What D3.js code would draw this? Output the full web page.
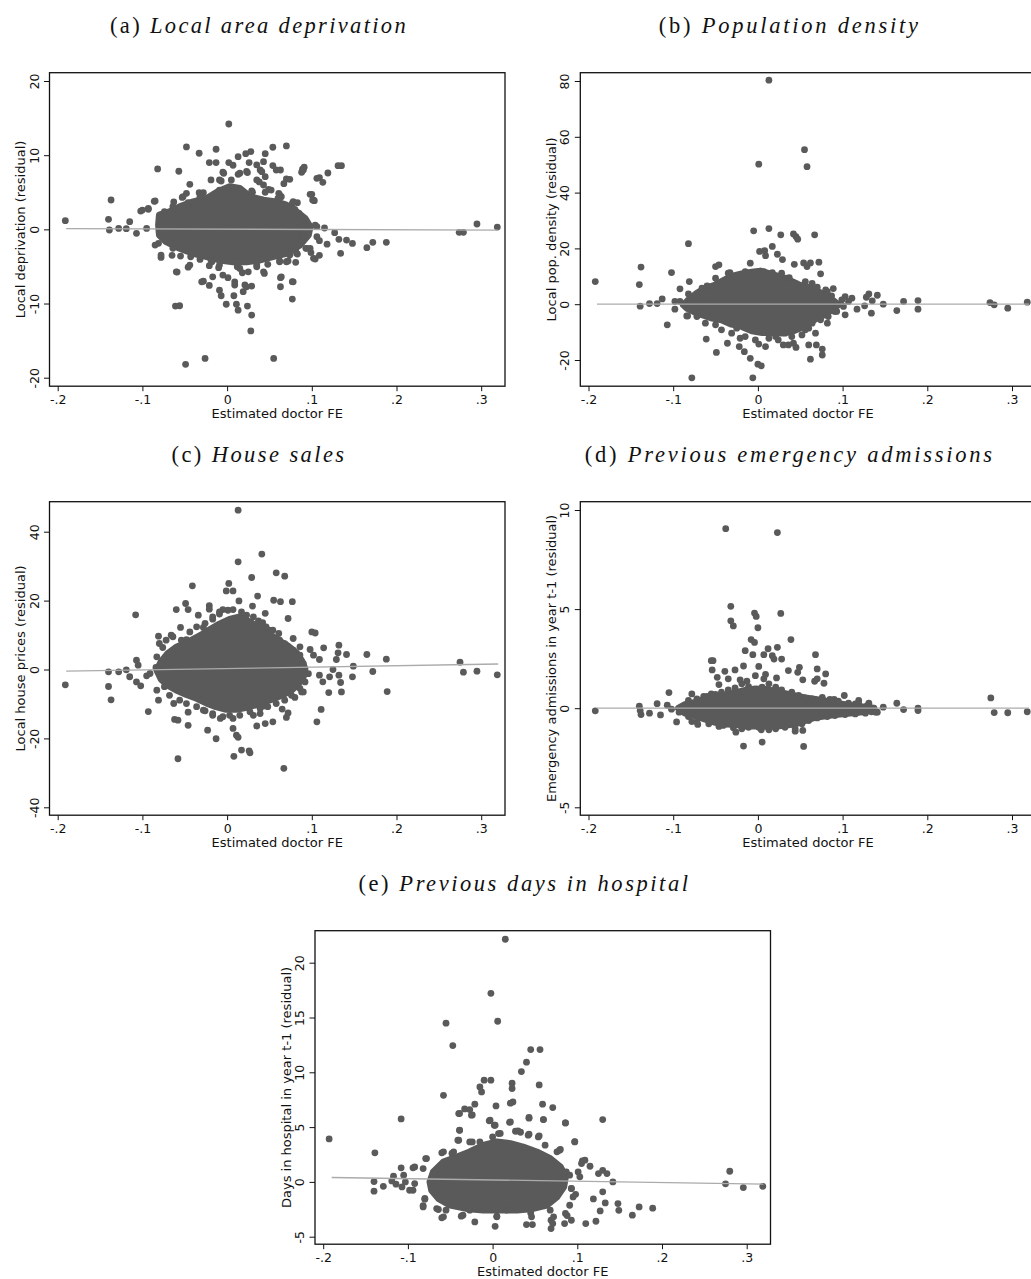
<!DOCTYPE html>
<html>
<head>
<meta charset="utf-8">
<script src="https://cdn.jsdelivr.net/npm/d3@7"></script>
<style>
body { margin: 0; background: #fff; }
</style>
</head>
<body>
<div id="chart-area"></div>
<script>
/* Data: estimated doctor FE (x) against residual outcomes (y) */
const xTicks = [-0.2, -0.1, 0, 0.1, 0.2, 0.3]

const yTicksA = [-20, -10, 0, 10, 20]
const yTicksB = [-20, 0, 20, 40, 60, 80]
const yTicksC = [-40, -20, 0, 20, 40]
const yTicksD = [-5, 0, 5, 10]
const yTicksE = [-5, 0, 5, 10, 15, 20]

// individual visible points
const pointsA = [[-0.191,1.17],[-0.140,1.35],[-0.137,3.96],[-0.139,-0.09],[-0.128,0.13],[-0.119,0.09],[-0.115,1.03],[-0.107,-0.54],[-0.102,2.47],[-0.093,2.7],[-0.086,3.78],[-0.082,8.14],[-0.081,-1.89],[-0.078,-3.78],[-0.057,7.83],[-0.048,11.11],[-0.044,6.07],[-0.033,10.26],[-0.013,10.8],[0.002,14.2],[-0.059,-5.76],[-0.061,-10.35],[-0.056,-10.3],[-0.049,-18.2],[-0.026,-17.4],[0.055,-17.4],[0.028,-13.7],[0.029,-11.56],[0.024,-10.35],[0.013,-10.9],[0.011,-10.1],[-0.001,-10.1],[-0.007,-8.95],[-0.009,-8.2],[-0.028,-7.0],[-0.021,-7.56],[-0.017,-6.4],[0.001,-6.52],[0.009,-7.5],[0.021,-7.5],[0.029,-7.65],[0.019,-8.4],[0.008,-8.95],[0.063,-6.52],[0.063,-7.74],[0.077,-7.06],[0.077,-9.4],[0.062,-4.27],[0.072,-4.27],[0.081,-4.45],[0.083,-3.33],[0.099,-3.15],[0.104,-4.0],[0.109,-3.5],[0.109,-1.53],[0.118,-2.0],[0.127,-0.45],[0.132,-1.35],[0.134,-3.24],[0.141,-1.44],[0.148,-1.9],[0.165,-2.47],[0.172,-1.75],[0.188,-1.75],[0.274,-0.4],[0.279,-0.4],[0.295,0.72],[0.319,0.31],[0.101,3.96],[0.103,3.87],[0.098,4.72],[0.109,6.97],[0.113,6.34],[0.119,7.6],[0.131,8.59],[0.135,8.59],[0.089,8.1],[0.091,8.37],[0.088,7.7],[0.074,6.75],[0.067,6.16],[0.063,8.0],[0.054,8.6],[0.054,11.07],[0.070,11.25],[0.045,10.2],[0.043,9.13],[0.035,8.68],[0.039,8.0],[0.028,10.48],[0.022,10.2],[0.013,9.8],[0.026,9.0],[0.024,7.65],[0.013,7.42],[0.007,8.64],[0.002,9.0],[-0.004,7.56],[-0.007,6.52],[-0.019,6.66],[-0.021,9.0],[-0.013,9.0],[0.045,7.1],[0.038,6.4],[0.049,5.4],[0.045,5.0],[0.030,5.0],[0.061,4.86],[0.064,4.4],[0.083,3.6],[0.080,2.7],[0.077,3.5],[0.085,2.16],[0.098,0.27],[0.106,0.36],[0.115,0.18],[0.090,-1.08],[0.093,-2.56],[0.098,-2.56],[0.081,-2.7],[-0.046,3.6],[-0.063,3.7],[-0.053,4.3],[-0.033,4.95],[-0.028,4.95],[-0.065,-3.5],[-0.055,-3.6],[-0.046,-5.1],[-0.043,-3.7],[-0.032,-4.05],[-0.019,-4.14],[-0.021,-4.9],[-0.010,-5.17],[0.018,-5.85],[0.012,-5.04],[0.035,-5.04],[0.044,-5.94],[0.048,-4.72],[0.061,-2.56],[0.069,-3.15],[0.074,-3.46]]

const pointsB = [[-0.192,8.1],[-0.140,7.05],[-0.138,13.3],[-0.139,-0.7],[-0.128,0.24],[-0.119,0.24],[-0.113,1.9],[-0.107,-7.4],[-0.102,11.35],[-0.098,-1.8],[-0.092,5.5],[-0.082,21.7],[-0.081,8.1],[-0.084,-4.2],[-0.078,-26.4],[-0.061,-12.5],[-0.049,-17.3],[-0.050,13.5],[-0.046,14.1],[-0.036,-14.0],[-0.033,11.35],[-0.021,-12.2],[-0.022,-15.2],[-0.016,-17.0],[-0.009,-19.4],[-0.005,26.3],[-0.006,-26.4],[0.000,-21.5],[0.004,-22.1],[0.001,50.2],[0.002,18.9],[0.008,19.2],[0.009,17.4],[0.013,80.3],[0.013,27.1],[0.017,20.7],[0.023,17.9],[0.029,16.0],[0.027,24.85],[0.042,25.2],[0.045,24.25],[0.047,23.3],[0.055,55.4],[0.058,49.3],[0.067,24.85],[0.072,15.05],[0.074,10.9],[0.054,14.8],[0.058,13.5],[0.062,14.8],[0.043,14.3],[0.037,9.56],[0.060,3.9],[0.001,-14.3],[0.009,-15.2],[0.024,-12.8],[0.030,-14.6],[0.036,-14.6],[0.042,-14.0],[0.045,-15.5],[0.052,-11.0],[0.060,-14.6],[0.069,-14.6],[0.062,-19.7],[0.076,-18.2],[0.076,-16.1],[0.068,-10.4],[0.060,-8.6],[0.082,-6.8],[0.090,-2.4],[0.093,-2.6],[0.103,-3.8],[0.103,2.75],[0.111,2.15],[0.117,-1.8],[0.126,-0.6],[0.128,2.5],[0.131,3.7],[0.134,-3.2],[0.135,1.2],[0.141,3.2],[0.148,0],[0.164,-2.3],[0.172,0.96],[0.189,1.3],[0.189,-1.8],[0.274,0.6],[0.279,-0.24],[0.295,-1.43],[0.318,0.72],[0.089,5.6],[0.080,5.1],[0.072,3.7],[-0.098,0.96],[-0.082,3.7],[-0.075,2.4],[-0.083,-4.2]]

const pointsC = [[-0.191,-4.45],[-0.140,-0.68],[-0.140,-4.93],[-0.137,-8.8],[-0.128,-0.68],[-0.119,-0.1],[-0.115,-2.1],[-0.107,-3.6],[-0.102,-4.74],[-0.108,15.87],[-0.107,2.7],[-0.105,1.26],[-0.095,-1.84],[-0.093,-12.2],[-0.091,-1.16],[-0.084,0.58],[-0.081,9.68],[-0.081,-8.9],[-0.083,3.68],[-0.076,6.39],[-0.066,9.97],[-0.063,-9.87],[-0.062,-14.5],[-0.058,-14.7],[-0.058,-25.9],[-0.060,17.4],[-0.055,12.2],[-0.049,19.16],[-0.046,17.4],[-0.041,24.3],[-0.046,-16.2],[-0.046,-12.4],[-0.034,15.77],[-0.021,18.5],[-0.021,17.5],[-0.023,-17.6],[-0.013,-20.1],[-0.008,-14.2],[-0.005,17.4],[-0.001,22.8],[0.002,25.0],[0.007,22.8],[0.013,46.25],[0.013,31.25],[0.014,19.9],[0.007,-17.1],[0.008,-25.2],[0.011,-19.06],[0.013,-19.7],[0.017,-23.4],[0.026,-23.6],[0.027,-24.2],[0.029,26.7],[0.030,18.4],[0.035,-16.4],[0.036,21.3],[0.041,33.5],[0.045,16.3],[0.045,-15.7],[0.054,-15.2],[0.055,20.1],[0.058,28.06],[0.063,19.7],[0.068,27.1],[0.072,14.8],[0.077,19.7],[0.078,9.0],[0.065,-11.5],[0.070,-13.9],[0.072,-12.6],[0.067,-28.7],[0.080,-8.1],[0.086,6.58],[0.090,-6.5],[0.098,5.8],[0.100,10.9],[0.104,10.6],[0.102,4.16],[0.109,-1.64],[0.109,2.9],[0.111,-11.6],[0.106,-15.2],[0.113,-3.58],[0.114,6.3],[0.120,-6.7],[0.121,-2.13],[0.125,0],[0.129,2.9],[0.132,7.06],[0.131,4.84],[0.132,-1.64],[0.134,-3.77],[0.135,-6.5],[0.141,4.35],[0.148,-2.13],[0.149,0.97],[0.165,4.35],[0.172,-0.58],[0.188,3.0],[0.189,-6.4],[0.275,2.13],[0.279,-0.77],[0.295,-0.48],[0.319,-1.55],[-0.048,8.7],[-0.028,12.2],[-0.017,14.6],[-0.009,16.1],[0.021,14.8],[0.042,13.6],[0.050,11.4],[0.061,10.45],[-0.026,-12.0],[-0.017,-13.3],[0.031,-13.3],[0.043,-10.6],[0.039,-12.8],[0.003,-13.3]]

const pointsD = [[-0.192,-0.13],[-0.140,0.1],[-0.139,-0.12],[-0.138,-0.32],[-0.128,-0.25],[-0.119,0.23],[-0.115,-0.34],[-0.107,0.15],[-0.105,0.79],[-0.102,-0.05],[-0.096,-0.69],[-0.093,-0.2],[-0.078,0.72],[-0.078,-0.67],[-0.071,-0.82],[-0.064,0.59],[-0.055,0.72],[-0.055,2.4],[-0.053,2.4],[-0.054,1.93],[-0.048,1.56],[-0.046,1.19],[-0.039,1.86],[-0.035,1.48],[-0.038,9.06],[-0.032,5.14],[-0.032,4.41],[-0.029,4.15],[-0.027,1.93],[-0.026,-1.21],[-0.017,-1.91],[-0.017,2.13],[-0.015,2.9],[-0.021,1.43],[-0.013,1.36],[-0.008,3.46],[-0.004,3.32],[-0.006,2.7],[-0.004,4.8],[-0.002,4.63],[0.000,4.06],[0.001,2.11],[-0.003,1.64],[0.005,-1.71],[0.004,-1.09],[0.007,2.7],[0.009,1.7],[0.007,1.48],[0.012,3.0],[0.017,2.65],[0.019,2.48],[0.023,8.86],[0.023,3.07],[0.022,1.53],[0.021,1.06],[0.027,4.78],[0.028,2.48],[0.036,1.9],[0.039,3.46],[0.047,1.81],[0.049,2.06],[0.053,1.43],[0.054,-1.93],[0.053,-1.12],[0.044,-1.16],[0.067,1.36],[0.070,1.48],[0.068,2.7],[0.070,1.98],[0.078,1.26],[0.080,1.73],[0.090,0.45],[0.102,0.64],[0.119,0.39],[0.131,0.25],[0.134,-0.18],[0.141,-0.2],[0.148,0.05],[0.164,0.25],[0.172,-0.07],[0.189,0],[0.189,-0.12],[0.275,0.52],[0.279,-0.22],[0.295,-0.23],[0.318,-0.18],[0.123,-0.17],[0.109,-0.03],[0.115,0.22]]

const pointsE = [[-0.193,3.92],[-0.139,2.65],[-0.140,0.03],[-0.140,-0.85],[-0.129,-0.4],[-0.119,0.09],[-0.117,0.52],[-0.114,-0.21],[-0.108,5.75],[-0.108,1.28],[-0.103,0],[-0.098,-0.76],[-0.094,1.28],[-0.092,-0.15],[-0.082,-2.16],[-0.080,-1.58],[-0.079,2.13],[-0.064,-2.52],[-0.060,2.65],[-0.060,-3.28],[-0.058,7.9],[-0.055,-2.58],[-0.055,14.48],[-0.047,12.44],[-0.048,2.59],[-0.040,6.23],[-0.039,4.71],[-0.035,-3.04],[-0.033,6.66],[-0.027,6.6],[-0.024,6.11],[-0.021,7.09],[-0.021,-3.65],[-0.015,8.67],[-0.013,8.21],[-0.010,9.28],[-0.002,9.28],[-0.002,17.21],[-0.004,5.57],[0.002,5.17],[0.004,6.93],[0.003,-4.05],[0.006,14.66],[0.005,-3.13],[0.007,4.41],[0.015,22.14],[0.020,5.44],[0.021,7.18],[0.023,9.0],[0.023,8.52],[0.024,7.3],[0.027,4.62],[0.033,4.53],[0.034,10.07],[0.040,10.92],[0.043,5.81],[0.043,4.35],[0.045,12.07],[0.055,4.2],[0.056,12.07],[0.055,8.85],[0.059,7.09],[0.060,5.69],[0.071,6.78],[0.040,-3.89],[0.047,-3.89],[0.045,-2.83],[0.069,-4.26],[0.069,-3.5],[0.071,-3.8],[0.079,2.89],[0.086,5.38],[0.085,-3.8],[0.088,-3.07],[0.093,-3.5],[0.097,3.68],[0.093,-0.61],[0.098,-1.13],[0.101,0.91],[0.106,1.92],[0.110,-3.8],[0.115,1.43],[0.119,-1.55],[0.122,-3.59],[0.125,0.76],[0.127,-2.65],[0.130,5.69],[0.130,1.06],[0.130,-0.91],[0.133,-1.92],[0.135,0.76],[0.142,0],[0.148,-1.98],[0.149,-2.59],[0.165,-3.04],[0.173,-2.28],[0.189,-2.4],[0.275,-0.18],[0.280,0.97],[0.296,-0.52],[0.319,-0.4],[-0.040,3.8],[-0.024,3.65],[0.000,4.1]]

// points sitting on the ragged rim of each dense cloud
const edgeA = [[-0.009,6.65],[-0.005,7.7],[0.005,6.65],[0.015,7.56],[0.023,7.8],[0.035,6.65],[0.041,7.77],[0.058,8.0],[0.070,6.79],[0.090,8.0],[0.106,6.88],[-0.048,4.86],[-0.052,4.4],[-0.032,4.4],[-0.009,5.3],[0.029,5.17],[0.043,5.98],[0.052,5.3],[0.062,4.63],[0.060,4.18],[0.078,3.72],[0.100,4.72],[0.102,3.95],[-0.085,3.82],[-0.093,2.83],[-0.100,2.6],[-0.074,2.38],[-0.064,3.05],[-0.095,0.13],[-0.085,-2.12],[-0.078,-3.47],[-0.064,-2.56],[-0.060,-5.72],[-0.044,-4.82],[-0.030,-7.07],[-0.024,-3.47],[-0.018,-4.37],[-0.009,-4.82],[-0.005,-6.17],[0.015,-5.27],[0.009,-7.07],[0.025,-5.72],[0.023,-7.75],[0.035,-4.82],[0.043,-5.72],[0.062,-4.37],[0.064,-6.4],[0.078,-7.07],[0.070,-4.37],[0.082,-3.24],[0.094,-2.56],[0.102,-3.91],[0.106,-1.0],[0.082,-0.77],[0.090,0.58],[0.104,0.58]]
const edgeB = [[-0.066,5.73],[-0.060,6.57],[-0.050,9.3],[-0.035,11.1],[-0.027,9.9],[-0.015,11.7],[-0.009,14.7],[0.007,11.7],[0.017,11.35],[0.028,11.1],[0.033,9.3],[0.044,7.5],[0.056,8.1],[0.064,7.5],[0.070,6.1],[0.082,4.5],[0.087,3.0],[-0.072,-4.4],[-0.062,-6.8],[-0.050,-7.4],[-0.043,-9.2],[-0.031,-10.4],[-0.025,-8.6],[-0.015,-11.6],[-0.003,-12.8],[0.013,-12.2],[0.021,-11.6],[0.032,-10.4],[0.040,-11.6],[0.056,-9.2],[0.064,-6.8],[0.074,-5.6],[0.083,-4.4],[0.091,-2.6],[0.101,-0.8],[0.107,0.96],[0.099,1.55],[-0.082,-0.24],[-0.092,0.96]]
const edgeC = [[-0.080,7.55],[-0.072,8.5],[-0.064,9.5],[-0.054,8.5],[-0.044,10.9],[-0.036,12.4],[-0.026,13.4],[-0.017,15.3],[-0.009,16.7],[0.001,17.2],[0.007,17.4],[0.017,16.7],[0.023,15.8],[0.031,15.3],[0.037,14.1],[0.046,12.4],[0.054,11.4],[0.062,8.5],[0.068,7.5],[0.078,5.6],[0.086,4.2],[0.090,1.7],[-0.083,-6.0],[-0.074,-5.0],[-0.068,-7.5],[-0.056,-8.9],[-0.048,-9.9],[-0.036,-10.8],[-0.028,-11.8],[-0.017,-12.8],[-0.005,-13.7],[0.007,-14.2],[0.015,-13.3],[0.027,-12.3],[0.039,-11.3],[0.048,-10.8],[0.058,-9.9],[0.068,-8.9],[0.076,-7.5],[0.086,-5.5],[0.092,-3.6],[0.096,-1.2],[0.088,-6.5]]
const edgeD = [[-0.082,0.39],[-0.072,0.47],[-0.060,0.59],[-0.050,0.69],[-0.043,0.81],[-0.035,0.92],[-0.027,1.02],[-0.019,1.23],[-0.011,1.09],[-0.003,0.92],[0.005,1.06],[0.013,1.23],[0.021,0.97],[0.028,0.92],[0.040,0.81],[0.048,0.64],[0.056,0.52],[0.064,0.47],[0.076,0.55],[0.085,0.45],[0.095,0.35],[0.107,0.25],[0.119,0.22],[0.129,0.13],[-0.082,-0.42],[-0.072,-0.7],[-0.058,-0.79],[-0.046,-0.92],[-0.041,-0.87],[-0.029,-0.99],[-0.019,-1.04],[-0.011,-0.96],[0.001,-0.96],[0.013,-1.09],[0.021,-1.04],[0.032,-0.96],[0.044,-1.04],[0.052,-0.79],[0.060,-0.62],[0.070,-0.49],[0.082,-0.42],[0.091,-0.37],[0.103,-0.32],[0.115,-0.29],[0.127,-0.25],[0.139,-0.2]]
const edgeE = [[-0.039,6.24],[-0.025,6.09],[-0.003,5.63],[0.003,5.17],[0.021,5.47],[0.030,4.65],[0.043,5.88],[0.060,5.69],[0.086,5.38],[0.097,3.65],[-0.039,4.72],[-0.041,3.8],[-0.027,3.65],[-0.015,3.65],[0.009,4.42],[0.042,4.26],[0.054,4.1],[0.062,3.35],[0.076,2.74],[0.080,2.96],[-0.058,2.74],[-0.046,2.74],[-0.078,2.13],[-0.092,1.37],[-0.082,1.22],[-0.105,0.61],[-0.107,-0.46],[-0.094,-0.76],[-0.080,-1.51],[-0.082,-2.28],[-0.066,-2.43],[-0.058,-3.19],[-0.037,-3.13],[-0.027,-2.58],[0.005,-3.19],[0.017,-2.58],[0.044,-2.52],[0.046,-3.19],[0.068,-2.58],[0.072,-3.19],[0.086,-2.88],[0.091,-2.13],[0.095,-1.37],[0.093,-0.6],[0.103,0.46],[0.105,1.68],[0.109,1.98],[0.087,0.91],[0.091,0.61]]

// outline of the dense centre of each cloud (centres of the outermost dots)
const coreA = [[-0.081,0.58],[-0.080,1.93],[-0.068,2.38],[-0.056,3.05],[-0.040,3.72],[-0.024,4.18],[-0.011,5.07],[0.003,5.75],[0.015,5.53],[0.027,4.4],[0.043,3.95],[0.058,3.72],[0.070,3.28],[0.082,2.38],[0.092,1.48],[0.098,0.35],[0.096,-0.77],[0.086,-2.12],[0.070,-3.24],[0.054,-3.7],[0.039,-4.14],[0.023,-4.37],[0.007,-4.37],[-0.009,-4.14],[-0.024,-3.7],[-0.040,-3.24],[-0.056,-2.56],[-0.072,-1.67],[-0.080,-0.77]]
const coreB = [[-0.088,-0.24],[-0.082,1.55],[-0.072,3.94],[-0.062,5.73],[-0.050,6.93],[-0.039,8.72],[-0.031,10.0],[-0.019,10.9],[-0.007,11.5],[0.003,11.9],[0.013,11.0],[0.024,10.0],[0.036,8.72],[0.048,7.0],[0.060,6.0],[0.070,4.8],[0.080,3.0],[0.089,1.3],[0.095,-0.24],[0.087,-2.03],[0.078,-3.82],[0.068,-5.3],[0.060,-7.0],[0.050,-8.6],[0.040,-9.8],[0.028,-10.4],[0.017,-10.2],[0.005,-10.2],[-0.007,-9.6],[-0.019,-8.0],[-0.031,-7.2],[-0.043,-5.62],[-0.054,-5.0],[-0.066,-3.82],[-0.076,-2.63],[-0.084,-1.43]]
const coreC = [[-0.083,-0.19],[-0.078,2.23],[-0.070,4.64],[-0.060,6.5],[-0.050,7.5],[-0.040,8.8],[-0.028,10.4],[-0.019,11.8],[-0.009,13.2],[0.003,14.6],[0.015,15.3],[0.027,13.8],[0.039,12.0],[0.050,10.2],[0.062,8.2],[0.072,6.8],[0.082,4.8],[0.088,2.6],[0.092,0.2],[0.090,-2.13],[0.084,-4.2],[0.076,-6.0],[0.066,-7.3],[0.056,-8.4],[0.046,-9.2],[0.035,-10.2],[0.023,-11.0],[0.011,-11.6],[-0.001,-11.6],[-0.013,-10.8],[-0.024,-9.8],[-0.036,-8.4],[-0.048,-7.3],[-0.060,-6.0],[-0.070,-4.6],[-0.078,-2.8]]
const coreD = [[-0.094,0],[-0.086,0.18],[-0.074,0.3],[-0.062,0.45],[-0.050,0.58],[-0.039,0.66],[-0.027,0.78],[-0.015,0.9],[-0.003,0.97],[0.009,0.95],[0.021,0.85],[0.032,0.74],[0.044,0.62],[0.056,0.52],[0.068,0.45],[0.080,0.36],[0.091,0.26],[0.103,0.18],[0.115,0.1],[0.127,0.05],[0.137,0],[0.127,-0.17],[0.115,-0.22],[0.103,-0.27],[0.091,-0.32],[0.080,-0.39],[0.068,-0.46],[0.056,-0.62],[0.044,-0.8],[0.032,-0.85],[0.021,-0.92],[0.009,-0.92],[-0.003,-0.9],[-0.015,-0.9],[-0.027,-0.82],[-0.039,-0.8],[-0.050,-0.72],[-0.062,-0.56],[-0.074,-0.38],[-0.086,-0.25]]
const coreE = [[-0.074,0],[-0.070,0.91],[-0.058,1.82],[-0.042,2.28],[-0.027,2.74],[-0.011,3.35],[0.005,3.65],[0.021,3.5],[0.036,3.19],[0.052,2.74],[0.068,2.13],[0.080,1.37],[0.086,0.46],[0.084,-0.46],[0.076,-1.37],[0.064,-2.13],[0.048,-2.43],[0.029,-2.58],[0.009,-2.58],[-0.011,-2.58],[-0.031,-2.43],[-0.050,-2.13],[-0.064,-1.51],[-0.072,-0.76]]

// fitted lines (endpoints)
const fitA = [[-0.19, 0.1], [0.32, -0.1]]
const fitB = [[-0.19, 0.05], [0.32, 0.0]]
const fitC = [[-0.19, -0.5], [0.32, 1.6]]
const fitD = [[-0.19, 0.0], [0.32, 0.0]]
const fitE = [[-0.19, 0.4], [0.32, -0.2]]

const panelTags = ['(a)', '(b)', '(c)', '(d)', '(e)']
const panelTitles = ['Local area deprivation', 'Population density', 'House sales', 'Previous emergency admissions', 'Previous days in hospital']
const yLabels = ['Local deprivation (residual)', 'Local pop. density (residual)', 'Local house prices (residual)', 'Emergency admissions in year t-1 (residual)', 'Days in hospital in year t-1 (residual)']
const xLabel = 'Estimated doctor FE'

/* Layout */
const CANVAS_WIDTH = 1031
const CANVAS_HEIGHT = 1279
const FRAME_W = 455.5
const FRAME_H = 313.5
const DOT_R = 3.4
const DOT_COLOR = '#5a5a5a'

const layout = [
	{ left: 49.5, top: 72.7, yHi: 8.3, yLo: 305, titleW: 298 },
	{ left: 580.3, top: 72.7, yHi: 8.3, yLo: 287.3, titleW: 262 },
	{ left: 49.5, top: 501.7, yHi: 30, yLo: 305.6, titleW: 175 },
	{ left: 580.3, top: 501.7, yHi: 8.3, yLo: 305.6, titleW: 410 },
	{ left: 315, top: 930.7, yHi: 32, yLo: 306, titleW: 332 }
]

const panels = [
	{ points: pointsA.concat(edgeA), core: coreA, fit: fitA, yTicks: yTicksA },
	{ points: pointsB.concat(edgeB), core: coreB, fit: fitB, yTicks: yTicksB },
	{ points: pointsC.concat(edgeC), core: coreC, fit: fitC, yTicks: yTicksC },
	{ points: pointsD.concat(edgeD), core: coreD, fit: fitD, yTicks: yTicksD },
	{ points: pointsE.concat(edgeE), core: coreE, fit: fitE, yTicks: yTicksE }
].map((p, i) => Object.assign(p, layout[i], {
	tag: panelTags[i], title: panelTitles[i], yLabel: yLabels[i]
}))

const $svg = d3.select('#chart-area')
	.append('svg')
	.attr('width', CANVAS_WIDTH)
	.attr('height', CANVAS_HEIGHT)
	.style('display', 'block')

const fmtX = d => d === 0 ? '0' : String(+d.toFixed(1)).replace(/^(-?)0\./, '$1.')

panels.forEach(p => {
	const $g = $svg.append('g')

	const xScale = d3.scaleLinear()
		.domain([-0.2, 0.3])
		.range([p.left + 8.2, p.left + 8.2 + 423.5])

	const yScale = d3.scaleLinear()
		.domain([p.yTicks[0], p.yTicks[p.yTicks.length - 1]])
		.range([p.top + p.yLo, p.top + p.yHi])

	/* Title */
	const $title = $g.append('text')
		.attr('x', p.left + 209.5)
		.attr('y', p.top - 39.5)
		.attr('text-anchor', 'middle')
		.attr('font-family', '"Liberation Serif", "Times New Roman", serif')
		.attr('font-size', 22.5)
		.attr('fill', '#111')
	$title.append('tspan').text(p.tag + ' ')
	$title.append('tspan').attr('font-style', 'italic').text(p.title)
	const natural = $title.node().getComputedTextLength()
	const nChars = (p.tag + ' ' + p.title).length
	$title.attr('letter-spacing', Math.max(0, (p.titleW - natural) / nChars))

	/* Dense core + points */
	const line = d3.line().x(d => xScale(d[0])).y(d => yScale(d[1]))
	$g.append('path')
		.datum(p.core)
		.attr('d', line.curve(d3.curveLinearClosed))
		.attr('fill', DOT_COLOR)
		.attr('stroke', DOT_COLOR)
		.attr('stroke-width', DOT_R * 2)
		.attr('stroke-linejoin', 'round')

	$g.selectAll('circle')
		.data(p.points)
		.enter()
		.append('circle')
		.attr('cx', d => xScale(d[0]))
		.attr('cy', d => yScale(d[1]))
		.attr('r', DOT_R)
		.attr('fill', DOT_COLOR)

	/* Fitted line */
	$g.append('path')
		.datum(p.fit)
		.attr('d', d3.line().x(d => xScale(d[0])).y(d => yScale(d[1])))
		.attr('fill', 'none')
		.attr('stroke', '#ababab')
		.attr('stroke-width', 1.3)

	/* Frame */
	$g.append('rect')
		.attr('x', p.left)
		.attr('y', p.top)
		.attr('width', FRAME_W)
		.attr('height', FRAME_H)
		.attr('fill', 'none')
		.attr('stroke', '#111')
		.attr('stroke-width', 1.3)

	/* Axes */
	const $xAxis = $g.append('g')
		.attr('transform', `translate(0, ${p.top + FRAME_H})`)
		.call(d3.axisBottom(xScale).tickValues(xTicks).tickFormat(fmtX).tickSize(5).tickSizeOuter(0))
	$xAxis.select('.domain').remove()
	$xAxis.selectAll('text')
		.attr('y', 17.5)
		.attr('dy', 0)
		.attr('font-size', 12.5)
		.attr('font-family', '"DejaVu Sans", sans-serif')
		.attr('fill', '#111')

	const $yAxis = $g.append('g')
		.attr('transform', `translate(${p.left}, 0)`)
		.call(d3.axisLeft(yScale).tickValues(p.yTicks).tickFormat(d => String(d)).tickSize(5.5).tickSizeOuter(0))
	$yAxis.select('.domain').remove()
	$yAxis.selectAll('text')
		.attr('transform', 'rotate(-90)')
		.attr('x', 0)
		.attr('y', -11)
		.attr('dy', 0)
		.attr('text-anchor', 'middle')
		.attr('font-size', 12.5)
		.attr('font-family', '"DejaVu Sans", sans-serif')
		.attr('fill', '#111')
	$g.selectAll('.tick line').attr('stroke', '#111')

	/* Axis labels */
	$g.append('text')
		.attr('x', p.left + FRAME_W / 2)
		.attr('y', p.top + FRAME_H + 32)
		.attr('text-anchor', 'middle')
		.attr('font-size', 13)
		.attr('font-family', '"DejaVu Sans", sans-serif')
		.attr('fill', '#111')
		.text(xLabel)

	$g.append('text')
		.attr('transform', `translate(${p.left - 24.5}, ${p.top + FRAME_H / 2}) rotate(-90)`)
		.attr('text-anchor', 'middle')
		.attr('font-size', 13)
		.attr('font-family', '"DejaVu Sans", sans-serif')
		.attr('fill', '#111')
		.text(p.yLabel)
})
</script>
</body>
</html>
